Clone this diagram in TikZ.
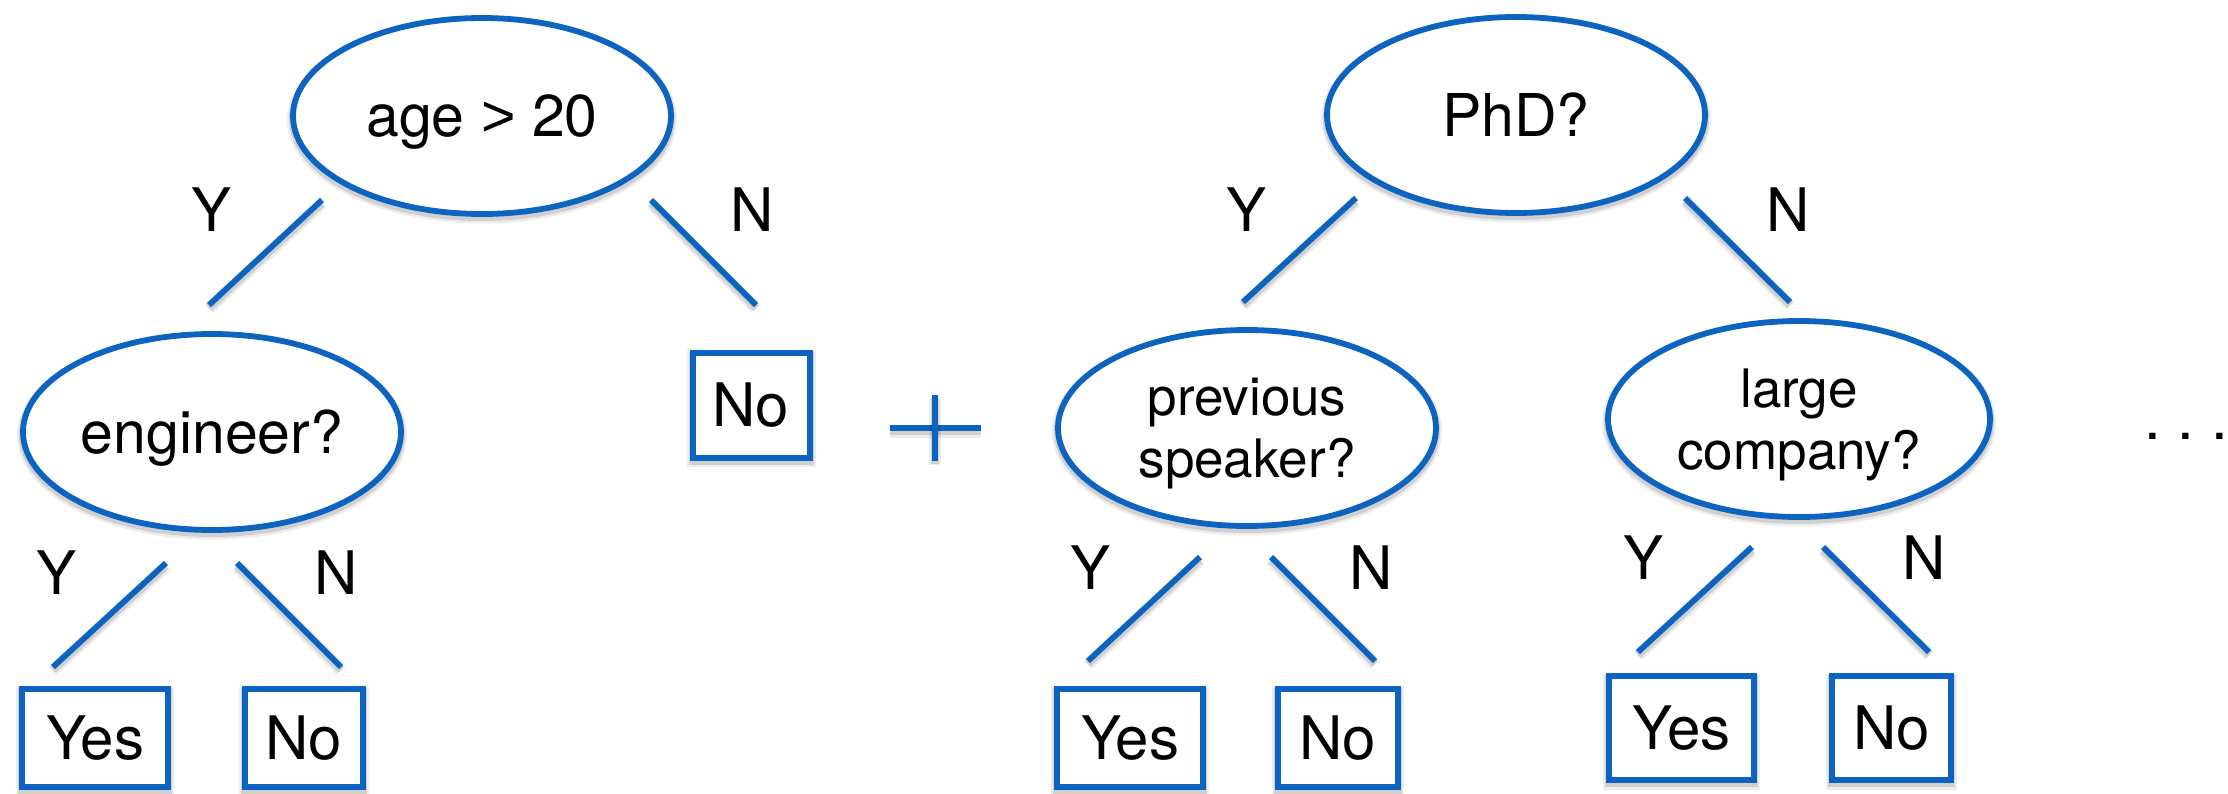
\documentclass[tikz,border=0pt]{standalone}
\usepackage{fontspec}
\setmainfont{TeX Gyre Heros}
\newfontfamily\relfont{Liberation Sans}
\usetikzlibrary{shapes.geometric}
\definecolor{treeblue}{RGB}{12,99,192}
\begin{document}
\begin{tikzpicture}[x=1pt,y=-1pt,
  softshadow/.style={
    preaction={draw=black,draw opacity=0.07,line width=12pt,transform canvas={yshift=-3.5pt}},
    preaction={draw=black,draw opacity=0.12,line width=8pt,transform canvas={yshift=-3pt}}},
  cond/.style={ellipse,draw=treeblue,line width=5.8pt,fill=white,inner sep=0pt,
    minimum width=378pt,minimum height=196pt,text depth=0pt,
    font=\fontsize{59}{70}\selectfont,softshadow},
  cond2/.style={cond,align=center,font=\fontsize{53}{62}\selectfont},
  leaf/.style={rectangle,draw=treeblue,line width=6pt,fill=white,inner sep=0pt,
    minimum height=98pt,font=\fontsize{60}{72}\selectfont,softshadow},
  branch/.style={draw=treeblue,line width=5.8pt,softshadow},
  lbl/.style={inner sep=0pt,font=\fontsize{60}{72}\selectfont}]
\useasboundingbox (0,0) rectangle (2228,793);

% ---- first tree ----
\node[cond] (age) at (482,116) {age {\relfont >} 20};
\node[cond] (eng) at (212,432) {engineer?};
\node[leaf,minimum width=117pt,minimum height=105pt] (ageNo) at (751,405) {No};
\node[leaf,minimum width=146pt] (engYes) at (95,738) {Yes};
\node[leaf,minimum width=118pt] (engNo) at (304,738) {No};

\coordinate (ageYa) at (322,200); \coordinate (ageYb) at (209,305);
\coordinate (ageNa) at (651,200); \coordinate (ageNb) at (756,305);
\coordinate (engYa) at (166,563); \coordinate (engYb) at (53,667);
\coordinate (engNa) at (237,563); \coordinate (engNb) at (341,667);
\draw[branch] (ageYa) -- (ageYb);
\draw[branch] (ageNa) -- (ageNb);
\draw[branch] (engYa) -- (engYb);
\draw[branch] (engNa) -- (engNb);
\node[lbl] (ageY) at (212,210) {Y};
\node[lbl] (ageN) at (752,210) {N};
\node[lbl] (engY) at (57,573) {Y};
\node[lbl] (engN) at (336,573) {N};

% ---- plus sign ----
\coordinate (plus) at (935,428);
\draw[branch] (plus) ++(-45.5,0) -- ++(91,0);
\draw[branch] (plus) ++(0,-33) -- ++(0,66);

% ---- second tree ----
\node[cond] (phd) at (1516,115) {PhD?};
\node[cond2] (prev) at (1247,428) {previous\\speaker?};
\node[cond2,minimum width=382pt] (large) at (1799,419) {large\\company?};
\node[leaf,minimum width=146pt] (prevYes) at (1130,738) {Yes};
\node[leaf,minimum width=120pt] (prevNo) at (1338,738) {No};
\node[leaf,minimum width=145pt,minimum height=104pt] (largeYes) at (1681.5,728) {Yes};
\node[leaf,minimum width=119pt,minimum height=104pt] (largeNo) at (1891.5,728) {No};

\coordinate (phdYa) at (1356,198); \coordinate (phdYb) at (1243,302);
\coordinate (phdNa) at (1685,198); \coordinate (phdNb) at (1790,302);
\coordinate (prevYa) at (1200,557); \coordinate (prevYb) at (1088,661);
\coordinate (prevNa) at (1271,557); \coordinate (prevNb) at (1375,661);
\coordinate (largeYa) at (1752,547); \coordinate (largeYb) at (1638,652);
\coordinate (largeNa) at (1823,547); \coordinate (largeNb) at (1929,652);
\draw[branch] (phdYa) -- (phdYb);
\draw[branch] (phdNa) -- (phdNb);
\draw[branch] (prevYa) -- (prevYb);
\draw[branch] (prevNa) -- (prevNb);
\draw[branch] (largeYa) -- (largeYb);
\draw[branch] (largeNa) -- (largeNb);
\node[lbl] (phdY) at (1246,210) {Y};
\node[lbl] (phdN) at (1788,210) {N};
\node[lbl] (prevY) at (1090,568) {Y};
\node[lbl] (prevN) at (1371,568) {N};
\node[lbl] (largeY) at (1643,558) {Y};
\node[lbl] (largeN) at (1924,558) {N};

% ---- continuation ----
\node[lbl,anchor=base] (more) at (2186,439) {.\ .\ .};
\end{tikzpicture}
\end{document}
